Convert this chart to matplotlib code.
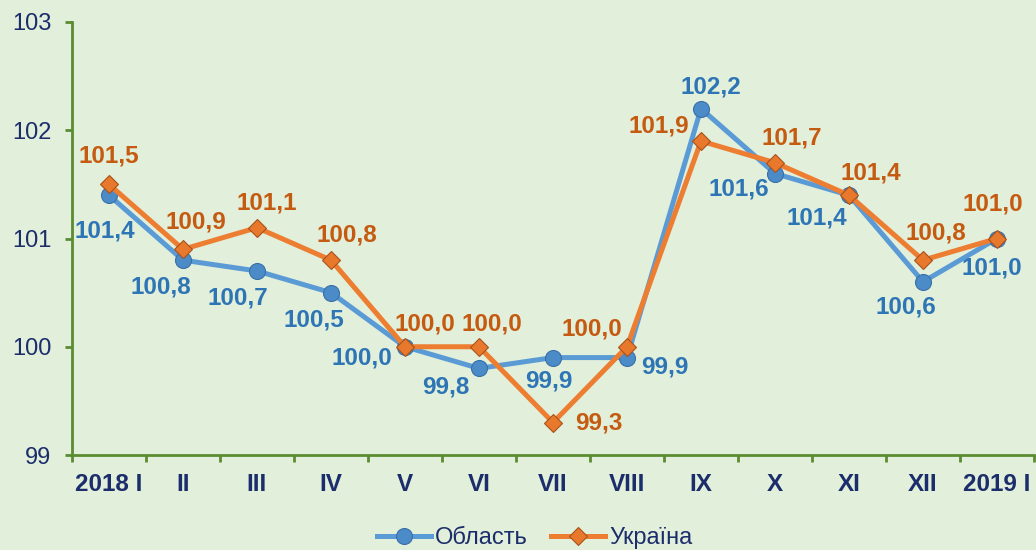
import matplotlib.pyplot as plt
from matplotlib.ticker import FixedLocator, NullFormatter

months = ["2018 I", "II", "III", "IV", "V", "VI", "VII", "VIII", "IX", "X", "XI", "XII", "2019 I"]
oblast = [101.4, 100.8, 100.7, 100.5, 100.0, 99.8, 99.9, 99.9, 102.2, 101.6, 101.4, 100.6, 101.0]
ukraine = [101.5, 100.9, 101.1, 100.8, 100.0, 100.0, 99.3, 100.0, 101.9, 101.7, 101.4, 100.8, 101.0]

# label offsets in pixels (dx, dy), dy positive = up
oblast_off = [(-4, -36), (-22, -27), (-19, -27), (-17, -27), (-43, -11), (-33, -19), (-4, -23),
              (38, -9), (10, 22), (-36, -15), (-32, -23), (-17, -25), (-5, -30)]
ukraine_off = [(0, 28), (13, 27), (10, 25), (16, 25), (20, 23), (13, 23), (46, 0),
               (-35, 18), (-42, 15), (17, 25), (22, 22), (13, 27), (-4, 35)]

bg = "#E2EFDA"
green = "#5B8C32"
navy = "#1B2D6B"
blue = "#5B9BD5"
orange = "#ED7D31"
blue_txt = "#2E75B6"
orange_txt = "#C55A11"

plt.rcParams["font.family"] = ["Liberation Sans", "DejaVu Sans"]

fig = plt.figure(figsize=(10.36, 5.5), dpi=100, facecolor=bg)
ax = fig.add_axes([72 / 1036, 1 - 455 / 550, 962 / 1036, 433 / 550], facecolor=bg)

x = list(range(len(months)))
ax.plot(x, oblast, color=blue, lw=3.6, marker="o", ms=11.5, mfc="#4A8BC8",
        mec="#3A70A8", mew=0.8, label="Область", zorder=3)
ax.plot(x, ukraine, color=orange, lw=3.6, marker="D", ms=9.5, mfc="#E8782C",
        mec="#A8521A", mew=0.8, label="Україна", zorder=4)

for i, v in enumerate(oblast):
    dx, dy = oblast_off[i]
    ax.annotate(f"{v:.1f}".replace(".", ","), (i, v), xytext=(dx, dy),
                textcoords="offset pixels", ha="center", va="center",
                fontsize=17.5, fontweight="bold", color=blue_txt, zorder=5)
for i, v in enumerate(ukraine):
    dx, dy = ukraine_off[i]
    ax.annotate(f"{v:.1f}".replace(".", ","), (i, v), xytext=(dx, dy),
                textcoords="offset pixels", ha="center", va="center",
                fontsize=17.5, fontweight="bold", color=orange_txt, zorder=5)

ax.set_xlim(-0.5, len(months) - 0.5)
ax.set_ylim(99, 103)
ax.set_yticks([99, 100, 101, 102, 103])
ax.set_yticklabels(["99", "100", "101", "102", "103"], fontsize=17, color=navy)

ax.set_xticks(x)
ax.set_xticklabels(months, fontsize=17.5, fontweight="bold", color=navy)
ax.tick_params(axis="x", which="major", length=0, pad=13)
ax.xaxis.set_minor_locator(FixedLocator([i - 0.5 for i in range(len(months) + 1)]))
ax.xaxis.set_minor_formatter(NullFormatter())
ax.tick_params(axis="x", which="minor", length=5, width=2, color=green, direction="out")
ax.tick_params(axis="y", length=5, width=2, color=green, pad=10)

for s in ["top", "right"]:
    ax.spines[s].set_visible(False)
for s in ["left", "bottom"]:
    ax.spines[s].set_color(green)
    ax.spines[s].set_linewidth(2)

leg = fig.legend(loc="center", bbox_to_anchor=(0.516, 0.022), ncol=2, frameon=False,
                 fontsize=17, handlelength=2.3, handletextpad=0.15, columnspacing=1.0,
                 labelcolor=navy)

fig.savefig("out.png", dpi=100, facecolor=bg)
